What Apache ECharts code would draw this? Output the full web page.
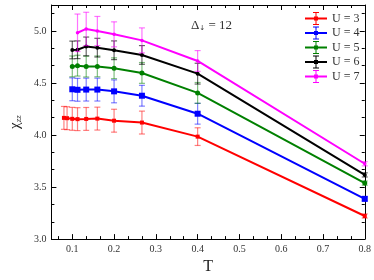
<!DOCTYPE html>
<html><head><meta charset="utf-8">
<script src="https://cdn.jsdelivr.net/npm/echarts@6/dist/echarts.min.js"></script>
<style>html,body{margin:0;padding:0;background:#fff}#c{width:374px;height:280px}</style>
</head><body><div id="c"></div>
<script>
// ---- data ----
const T_U3 = [0.08, 0.0875, 0.1, 0.1125, 0.1333, 0.16, 0.2, 0.2667, 0.4, 0.8];
const chi_U3 = [4.165, 4.162, 4.156, 4.153, 4.155, 4.158, 4.138, 4.12, 3.985, 3.222];
const err_U3 = [0.11, 0.11, 0.11, 0.11, 0.11, 0.11, 0.11, 0.11, 0.085, 0.02];

const T_U4 = [0.1, 0.1125, 0.1333, 0.16, 0.2, 0.2667, 0.4, 0.8];
const chi_U4 = [4.44, 4.435, 4.437, 4.437, 4.42, 4.378, 4.205, 3.387];
const err_U4 = [0.11, 0.11, 0.11, 0.11, 0.11, 0.1, 0.1, 0.02];

const T_U5 = [0.1, 0.1125, 0.1333, 0.16, 0.2, 0.2667, 0.4, 0.8];
const chi_U5 = [4.66, 4.667, 4.658, 4.66, 4.642, 4.597, 4.405, 3.538];
const err_U5 = [0.1, 0.1, 0.1, 0.1, 0.1, 0.1, 0.1, 0.02];

const T_U6 = [0.1, 0.1125, 0.1333, 0.16, 0.2, 0.2667, 0.4, 0.8];
const chi_U6 = [4.818, 4.82, 4.852, 4.84, 4.815, 4.77, 4.59, 3.617];
const err_U6 = [0.085, 0.085, 0.09, 0.09, 0.09, 0.09, 0.1, 0.02];

const T_U7 = [0.1125, 0.1333, 0.16, 0.2, 0.2667, 0.4, 0.8];
const chi_U7 = [4.983, 5.02, 5.0, 4.968, 4.91, 4.712, 3.724];
const err_U7 = [0.18, 0.16, 0.14, 0.12, 0.12, 0.1, 0.02];

const seriesNames = ['U = 3', 'U = 4', 'U = 5', 'U = 6', 'U = 7'];
const xMajor = [0.1, 0.2, 0.3, 0.4, 0.5, 0.6, 0.7, 0.8];
const xMinor = [0.0667, 0.1333, 0.1667, 0.2333, 0.2667, 0.3333, 0.3667, 0.4333, 0.4667, 0.5333, 0.5667, 0.6333, 0.6667, 0.7333, 0.7667];
const yMajor = [3.0, 3.5, 4.0, 4.5, 5.0];
const yMinor = [3.1667, 3.3333, 3.6667, 3.8333, 4.1667, 4.3333, 4.6667, 4.8333, 5.1667];

// ---- styling ----
const FONT = 'Liberation Serif';
const colors = ['#ff0000', '#0000ff', '#008000', '#000000', '#ff00ff'];
const errColors = ['rgba(255,0,0,0.5)', 'rgba(0,0,255,0.5)', 'rgba(0,128,0,0.5)', 'rgba(0,0,0,0.6)', 'rgba(255,0,255,0.55)'];
const symbols = ['rect', 'rect', 'circle', 'circle', 'circle'];
const symSizes = [4, 6, 5, 4, 3.5];
const groups = [[T_U3, chi_U3, err_U3], [T_U4, chi_U4, err_U4], [T_U5, chi_U5, err_U5], [T_U6, chi_U6, err_U6], [T_U7, chi_U7, err_U7]];

const XMIN = 0.05, XMAX = 0.8, YMIN = 3.0, YMAX = 5.25;
const legendIcon = 'path://M0 5.5H22V7.5H0Z M10.5 0H11.5V13H10.5Z M8 0H14V1H8Z M8 12H14V13H8Z M9 4.5H13V8.5H9Z';

function xAx(pos, vals, len, showLine, labels) {
  return {
    type: 'value', min: XMIN, max: XMAX, position: pos,
    axisLine: { show: showLine, onZero: false, lineStyle: { color: '#000', width: 1 } },
    axisTick: { show: true, inside: true, length: len, customValues: vals, lineStyle: { color: '#000', width: 1 } },
    axisLabel: labels ? { show: true, customValues: vals, formatter: v => v.toFixed(1), fontFamily: FONT, fontSize: 10, color: '#333', margin: 5 } : { show: false },
    splitLine: { show: false }
  };
}
function yAx(pos, vals, len, showLine, labels) {
  return {
    type: 'value', min: YMIN, max: YMAX, position: pos,
    axisLine: { show: showLine, onZero: false, lineStyle: { color: '#000', width: 1 } },
    axisTick: { show: true, inside: true, length: len, customValues: vals, lineStyle: { color: '#000', width: 1 } },
    axisLabel: labels ? { show: true, customValues: vals, formatter: v => v.toFixed(1), fontFamily: FONT, fontSize: 10, color: '#333', margin: 5 } : { show: false },
    splitLine: { show: false }
  };
}

const xAxes = [xAx('bottom', xMajor, 5, true, true), xAx('bottom', xMinor, 3, false, false), xAx('top', xMajor, 5, true, false), xAx('top', xMinor, 3, false, false)];
Object.assign(xAxes[0], { name: 'T', nameLocation: 'middle', nameGap: 19, nameTextStyle: { fontFamily: FONT, fontSize: 16, color: '#222' } });
const yAxes = [yAx('left', yMajor, 5, true, true), yAx('left', yMinor, 3, false, false), yAx('right', yMajor, 5, true, false), yAx('right', yMinor, 3, false, false)];
Object.assign(yAxes[0], {
  name: 'χ{s|zz}', nameLocation: 'middle', nameGap: 23, nameRotate: 90,
  nameTextStyle: { fontFamily: FONT, fontSize: 15, color: '#222', rich: { s: { fontFamily: FONT, fontSize: 9, fontStyle: 'italic', color: '#222', verticalAlign: 'bottom', padding: [6, 0, 0, 0] } } }
});

const series = [];
groups.forEach((g, i) => {
  const [T, chi, err] = g;
  series.push({
    name: seriesNames[i] + ' err', type: 'custom', xAxisIndex: 0, yAxisIndex: 0, z: 2 + i * 2,
    data: T.map((t, k) => [t, chi[k] - err[k], chi[k] + err[k]]),
    encode: { x: 0, y: [1, 2] },
    silent: true,
    renderItem: function (params, api) {
      const x = api.value(0);
      const lo = api.coord([x, api.value(1)]);
      const hi = api.coord([x, api.value(2)]);
      const hw = 3;
      const st = { stroke: errColors[i], lineWidth: 1.2 };
      return {
        type: 'group', children: [
          { type: 'line', shape: { x1: lo[0], y1: lo[1], x2: hi[0], y2: hi[1] }, style: st },
          { type: 'line', shape: { x1: lo[0] - hw, y1: lo[1], x2: lo[0] + hw, y2: lo[1] }, style: st },
          { type: 'line', shape: { x1: hi[0] - hw, y1: hi[1], x2: hi[0] + hw, y2: hi[1] }, style: st }
        ]
      };
    }
  });
  series.push({
    name: seriesNames[i], type: 'line', xAxisIndex: 0, yAxisIndex: 0, z: 3 + i * 2,
    data: T.map((t, k) => [t, chi[k]]),
    symbol: symbols[i], symbolSize: symSizes[i], showSymbol: true,
    lineStyle: { color: colors[i], width: 2 },
    itemStyle: { color: colors[i] },
    animation: false
  });
});

const chart = echarts.init(document.getElementById('c'), null, { renderer: 'canvas' });
chart.setOption({
  animation: false,
  backgroundColor: '#fff',
  grid: { left: 37, right: 8, top: 5, bottom: 28, containLabel: false },
  xAxis: xAxes,
  yAxis: yAxes,
  legend: {
    orient: 'vertical', left: 305, top: 12, padding: 0, itemWidth: 22, itemHeight: 13, itemGap: 1.5,
    icon: legendIcon,
    textStyle: { fontFamily: FONT, fontSize: 12, color: '#333', lineHeight: 13 },
    data: seriesNames
  },
  graphic: [{
    type: 'text', left: 191, top: 19,
    style: {
      text: 'Δ{s|↓} = 12', fontFamily: FONT, fontSize: 13, fill: '#333',
      rich: { s: { fontFamily: 'DejaVu Sans', fontSize: 7, fill: '#333', verticalAlign: 'bottom', padding: [5, 0, 0, 0] } }
    }
  }],
  series: series
});
</script></body></html>
